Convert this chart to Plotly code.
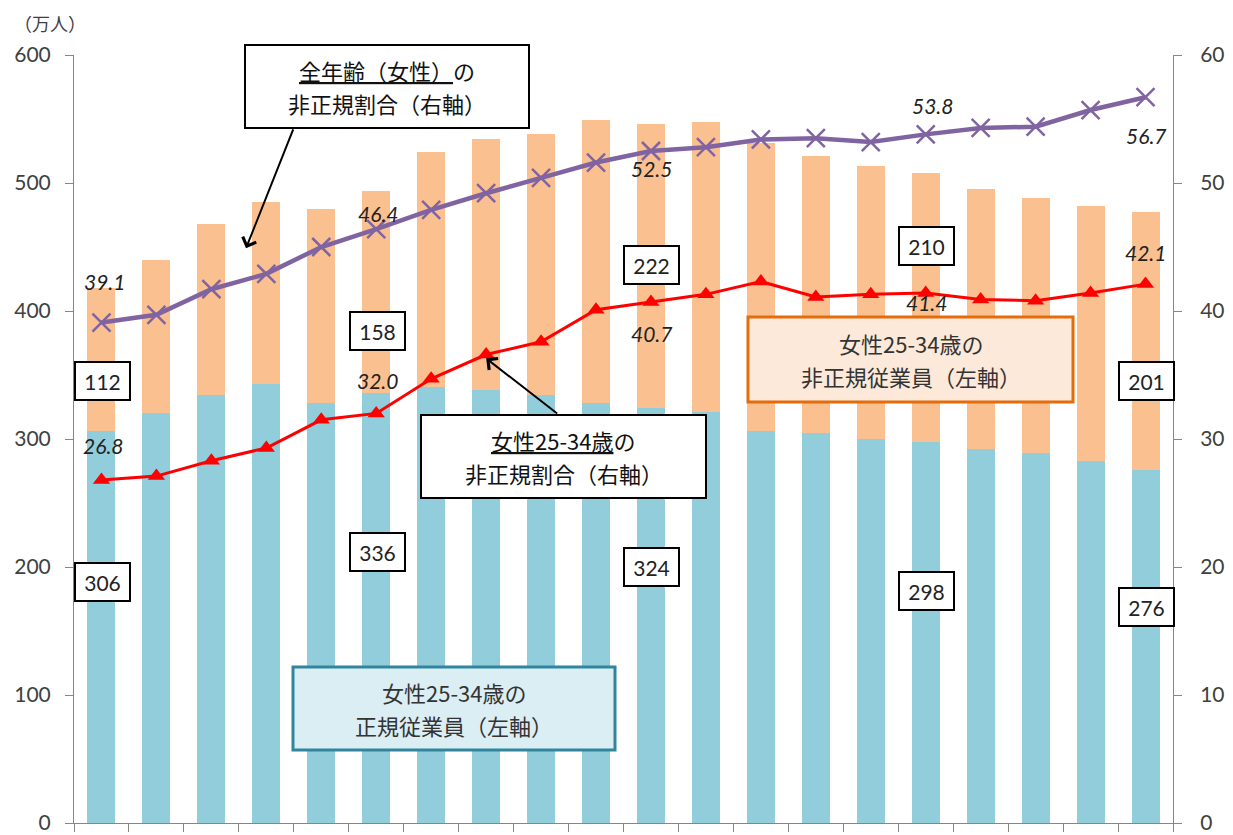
import plotly.graph_objects as go

# 女性25-34歳の雇用者数（万人）と非正規割合（%）
years = [1994, 1995, 1996, 1997, 1998, 1999, 2000, 2001, 2002, 2003,
         2004, 2005, 2006, 2007, 2008, 2009, 2010, 2011, 2012, 2013]
regular = [306, 320, 334, 343, 328, 336, 341, 338, 334, 328,
           324, 321, 306, 305, 300, 298, 292, 289, 283, 276]
non_regular = [112, 120, 134, 142, 152, 158, 183, 196, 204, 221,
               222, 227, 225, 216, 213, 210, 203, 199, 199, 201]
ratio_all_women = [39.1, 39.7, 41.7, 42.9, 45.0, 46.4, 47.9, 49.2, 50.4, 51.6,
                   52.5, 52.8, 53.4, 53.5, 53.2, 53.8, 54.3, 54.4, 55.7, 56.7]
ratio_25_34 = [26.8, 27.1, 28.3, 29.3, 31.5, 32.0, 34.7, 36.6, 37.6, 40.1,
               40.7, 41.3, 42.3, 41.1, 41.3, 41.4, 40.9, 40.8, 41.4, 42.1]

NUM_FONT = "Lato, 'Noto Sans CJK JP', sans-serif"
JP_FONT = "'Noto Sans CJK JP', sans-serif"
AXIS_GRAY = "#868686"
TEXT_GRAY = "#404040"

W, H = 1233, 835
M_L, M_R, M_T, M_B = 74, 60, 55, 12
PLOT_W = W - M_L - M_R
PLOT_H = H - M_T - M_B


def paper_x(px):
    """Pixel column -> paper x."""
    return (px - M_L) / PLOT_W


def paper_y(py):
    """Pixel row -> paper y."""
    return (H - M_B - py) / PLOT_H


fig = go.Figure()

fig.add_trace(go.Bar(x=years, y=regular, name="正規従業員", width=0.51,
                     marker=dict(color="#92CDDC", line=dict(width=0))))
fig.add_trace(go.Bar(x=years, y=non_regular, name="非正規従業員", width=0.51,
                     marker=dict(color="#FAC090", line=dict(width=0))))

fig.add_trace(go.Scatter(x=years, y=ratio_all_women, yaxis="y2", mode="lines+markers",
                         name="全年齢（女性）の非正規割合",
                         line=dict(color="#8064A2", width=4.5),
                         marker=dict(symbol="x-thin", size=18,
                                     line=dict(color="#8064A2", width=2.5))))
fig.add_trace(go.Scatter(x=years, y=ratio_25_34, yaxis="y2", mode="lines+markers",
                         name="女性25-34歳の非正規割合",
                         line=dict(color="#FF0000", width=3),
                         marker=dict(symbol="triangle-up", size=15, color="#FF0000")))

annotations = []
shapes = []

# 比率の数値ラベル（系列, 年の位置, 縦方向のずらし, 横方向のずらし）
ratio_labels = [
    (ratio_all_women, 0, 41, 3), (ratio_all_women, 5, 16, 2), (ratio_all_women, 10, -17, 1),
    (ratio_all_women, 15, 29, 7), (ratio_all_women, 19, -38, 0),
    (ratio_25_34, 0, 34, 2), (ratio_25_34, 5, 33, 1), (ratio_25_34, 10, -31, 1),
    (ratio_25_34, 15, -9, 1), (ratio_25_34, 19, 32, 0),
]
for series, i, dy, dx in ratio_labels:
    annotations.append(dict(
        x=years[i], y=series[i], xref="x", yref="y2", yshift=dy, xshift=dx,
        text=f"<i>{series[i]:.1f}</i>", showarrow=False,
        font=dict(family=NUM_FONT, size=21, color="#222222")))

# 人数の枠付きラベル（系列, 年の位置, 左軸上の表示位置）
count_labels = [
    (non_regular, 0, 345), (non_regular, 5, 384), (non_regular, 10, 436),
    (non_regular, 15, 451), (non_regular, 19, 345),
    (regular, 0, 188), (regular, 5, 212), (regular, 10, 200),
    (regular, 15, 181), (regular, 19, 169),
]
for series, i, ypos in count_labels:
    annotations.append(dict(
        x=years[i], y=ypos, xref="x", yref="y", xshift=1,
        text=str(series[i]), showarrow=False,
        width=45, height=28, borderpad=4, borderwidth=2,
        bordercolor="#000000", bgcolor="#FFFFFF",
        font=dict(family=NUM_FONT, size=21, color="#222222")))

# 系列の説明ボックス: (左, 上, 右, 下) のピクセル位置, 枠色, 塗り, 枠幅, 1行目, 2行目
legend_boxes = [
    ((245, 45, 529, 128), "#000000", "#FFFFFF", 2,
     "<u>全年齢（女性）</u>の", "非正規割合（右軸）", "#111111"),
    ((421, 415, 706, 498), "#000000", "#FFFFFF", 2,
     "<u>女性25-34歳</u>の", "非正規割合（右軸）", "#111111"),
    ((748, 317, 1073, 402), "#E46C0A", "#FDE9D9", 3,
     "女性25-34歳の", "非正規従業員（左軸）", "#333333"),
    ((293, 667, 615, 750), "#31859C", "#DBEEF4", 3,
     "女性25-34歳の", "正規従業員（左軸）", "#333333"),
]
for (x0, y0, x1, y1), edge, fill, lw, line1, line2, tcolor in legend_boxes:
    shapes.append(dict(type="rect", xref="paper", yref="paper", layer="above",
                       x0=paper_x(x0), x1=paper_x(x1), y0=paper_y(y1), y1=paper_y(y0),
                       line=dict(color=edge, width=lw), fillcolor=fill))
    cx = (x0 + x1) / 2
    cy = (y0 + y1) / 2
    for text, row in ((line1, cy - 16.5), (line2, cy + 16.5)):
        annotations.append(dict(x=paper_x(cx), y=paper_y(row), xref="paper", yref="paper",
                                xanchor="center", yanchor="middle", showarrow=False,
                                text=text, font=dict(family=JP_FONT, size=22, color=tcolor)))

# 説明ボックスから系列への矢印
annotations += [
    dict(x=years[0] + 2.63, y=449, ax=years[0] + 3.5, ay=543,
         xref="x", yref="y", axref="x", ayref="y", text="",
         showarrow=True, arrowhead=4, arrowsize=1.4, arrowwidth=2, arrowcolor="#000000"),
    dict(x=years[0] + 7.0, y=363, ax=years[0] + 8.32, ay=319,
         xref="x", yref="y", axref="x", ayref="y", text="",
         showarrow=True, arrowhead=4, arrowsize=1.4, arrowwidth=2, arrowcolor="#000000"),
]

# 単位
annotations.append(dict(x=paper_x(12), y=paper_y(23), xref="paper", yref="paper",
                        xanchor="left", yanchor="middle", showarrow=False,
                        text="（万人）", font=dict(family=JP_FONT, size=18, color=TEXT_GRAY)))

boundaries = [y - 0.5 for y in years] + [years[-1] + 0.5]

fig.update_layout(
    width=W, height=H,
    margin=dict(l=M_L, r=M_R, t=M_T, b=M_B, autoexpand=False),
    paper_bgcolor="#FFFFFF", plot_bgcolor="#FFFFFF",
    barmode="stack", showlegend=False,
    annotations=annotations, shapes=shapes,
    xaxis=dict(range=[years[0] - 0.5, years[-1] + 0.5], showgrid=False, zeroline=False,
               automargin=False,
               showline=True, linecolor=AXIS_GRAY, linewidth=1,
               tickmode="array", tickvals=boundaries, ticktext=[""] * len(boundaries),
               ticks="outside", ticklen=8, tickcolor=AXIS_GRAY, showticklabels=False),
    yaxis=dict(range=[0, 600], dtick=100, showgrid=False, zeroline=False,
               automargin=False,
               showline=True, linecolor=AXIS_GRAY, linewidth=1,
               ticks="outside", ticklen=8, tickcolor=AXIS_GRAY,
               ticklabelstandoff=10,
               tickfont=dict(family=NUM_FONT, size=21, color=TEXT_GRAY)),
    yaxis2=dict(range=[0, 60], dtick=10, overlaying="y", side="right",
                showgrid=False, zeroline=False, automargin=False,
                showline=True, linecolor=AXIS_GRAY, linewidth=1,
                ticks="outside", ticklen=8, tickcolor=AXIS_GRAY,
                ticklabelstandoff=14,
                tickfont=dict(family=NUM_FONT, size=21, color=TEXT_GRAY)),
)

fig.write_html("out.html")
